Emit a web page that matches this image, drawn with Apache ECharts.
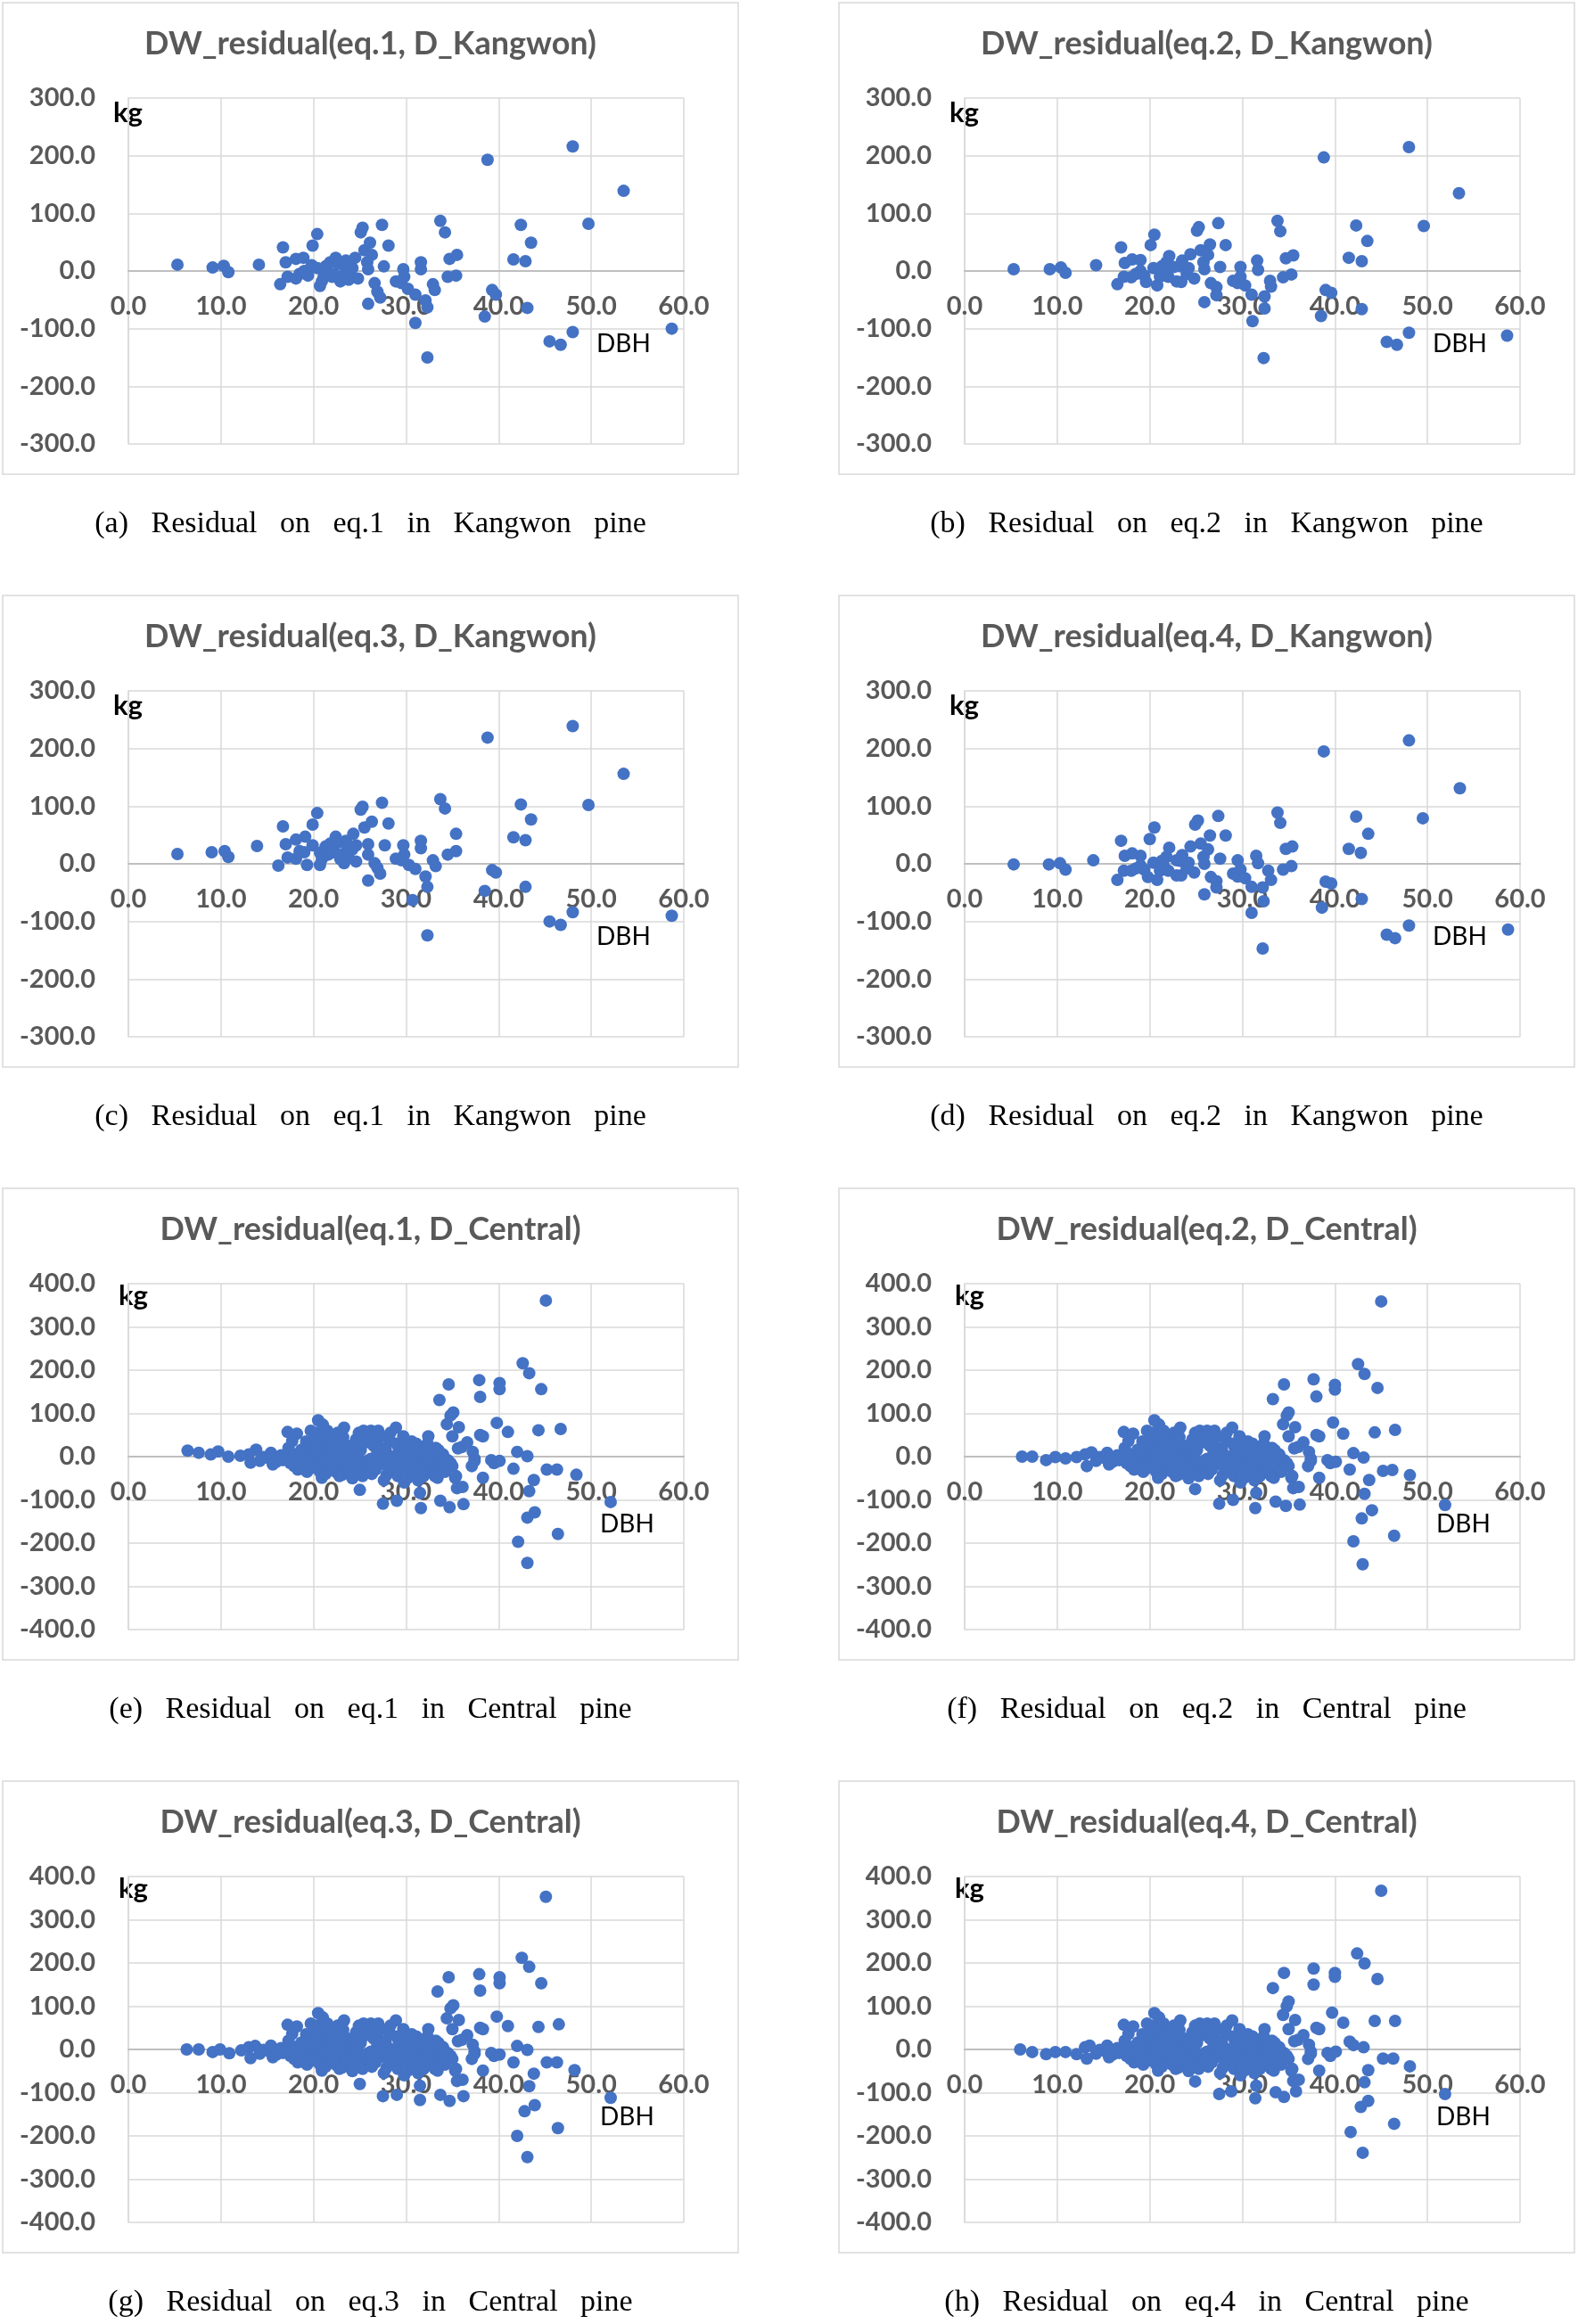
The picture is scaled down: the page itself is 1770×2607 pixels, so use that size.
<!DOCTYPE html>
<html><head><meta charset="utf-8">
<script src="https://cdn.jsdelivr.net/npm/echarts@6/dist/echarts.min.js"></script>
<style>html,body{margin:0;padding:0;background:#fff;}#c{width:1770px;height:2607px;}</style>
</head><body><div id="c"></div>
<script>
// ---------- DATA (DBH, residual kg) ----------
const kangwonEq1 = [
[5.3,11],[9.1,6],[10.3,9],[10.8,-2],[14.1,11],
[16.7,41],[16.4,-23],[17.0,15],[17.2,-10],[18.1,21],[18.1,-13],[18.5,-5],[18.9,23],[19.0,0],[19.4,-8],[19.8,10],[19.9,44],[20.4,64],[20.4,5],[20.7,-26],[20.9,-18],[21.1,-10],[21.3,8],[21.5,0],[21.8,15],[22.0,-10],[22.2,-5],[22.4,23],[22.7,13],[22.9,-18],[23.0,-10],[23.3,8],[23.5,18],[23.8,-15],[24.0,-5],[24.2,5],[24.5,23],[24.8,-13],[25.1,67],[25.3,75],[25.5,36],[25.8,15],[25.9,-57],[25.9,3],[26.1,49],[26.3,28],[26.6,-21],[26.9,-36],[27.2,-46],[27.4,80],[27.6,8],[28.1,44],[28.9,-18],[29.5,-21],[29.7,3],[29.8,-10],[30.2,-31],[31.0,-41],[31.0,-90],[31.6,15],[31.6,3],[32.1,-51],[32.3,-63],[32.3,-150],[32.9,-23],[33.1,-33],[33.7,87],[34.2,67],[34.5,-10],[34.7,21],[35.4,-8],[35.5,28],
[38.5,-79],[38.8,193],[39.3,-33],[39.7,-41],[41.6,20],[42.4,80],[42.9,17],[43.1,-64],[43.5,49],[45.5,-122],[46.7,-128],[48.0,216],[48.0,-106],[49.7,82],[53.5,139],[58.7,-100]
];
const kangwonEq2 = [
[5.3,3],[9.2,3],[10.4,6],[10.9,-3],[14.2,10],
[16.9,41],[16.5,-23],[17.3,14],[17.2,-10],[18.0,-11],[18.1,20],[18.5,-5],[19.0,19],[19.0,0],[19.4,-8],[19.6,-19],[20.1,45],[20.5,63],[20.4,5],[20.8,-25],[21.1,-10],[21.3,8],[21.5,0],[21.8,15],[22.0,-10],[22.1,26],[22.6,7],[22.9,-18],[23.3,8],[23.4,-19],[23.5,18],[24.0,-5],[24.2,5],[24.4,29],[24.8,-13],[25.1,70],[25.3,76],[25.5,36],[25.8,15],[25.9,-54],[25.9,3],[26.5,46],[26.3,28],[26.6,-21],[27.2,-28],[27.2,-42],[27.4,83],[27.6,7],[28.2,45],[29.0,-17],[29.5,-21],[29.8,7],[29.8,-10],[30.3,-25],[31.0,-41],[31.1,-87],[31.6,18],[31.7,2],[32.4,-44],[32.4,-65],[32.3,-151],[33.0,-17],[33.1,-27],[33.8,87],[34.1,69],[34.4,-11],[34.7,22],[35.3,-6],[35.5,27],
[38.5,-78],[38.8,197],[39.0,-33],[39.6,-38],[41.5,23],[42.3,79],[42.9,17],[42.9,-66],[43.5,52],[45.6,-123],[46.7,-128],[48.0,215],[48.0,-107],[49.6,78],[53.4,135],[58.6,-112]
];
const kangwonEq3 = [
[5.3,17],[9.0,20],[10.4,22],[10.8,12],[13.9,31],
[16.7,65],[16.2,-3],[17.0,34],[17.2,11],[18.1,42],[18.1,9],[18.5,22],[19.0,20],[19.1,47],[19.3,-2],[19.9,68],[19.9,32],[20.4,88],[20.7,19],[20.7,-2],[20.9,8],[21.3,30],[21.5,25],[21.6,16],[21.8,35],[22.2,20],[22.4,47],[22.7,37],[22.9,8],[23.0,16],[23.3,1],[23.5,40],[23.7,27],[23.8,10],[24.2,25],[24.3,52],[24.6,32],[24.6,4],[25.1,94],[25.3,99],[25.5,63],[25.9,34],[25.9,16],[25.9,-29],[26.3,73],[26.6,1],[26.9,-7],[27.2,-17],[27.4,106],[27.7,32],[28.1,70],[28.9,9],[29.5,6],[29.7,32],[29.8,16],[30.3,-2],[30.7,-63],[31.0,-9],[31.6,40],[31.6,27],[32.1,-22],[32.3,-40],[32.3,-124],[32.9,6],[33.2,-4],[33.7,112],[34.2,96],[34.5,16],[35.4,52],[35.4,22],
[38.5,-47],[38.8,219],[39.3,-11],[39.7,-15],[41.6,46],[42.4,103],[42.9,41],[42.9,-40],[43.5,77],[45.5,-100],[46.7,-106],[48.0,239],[48.0,-84],[49.7,102],[53.5,156],[58.7,-90]
];
const kangwonEq4 = [
[5.3,-1],[9.1,-1],[10.3,1],[10.9,-10],[13.9,6],
[16.9,40],[16.5,-28],[17.3,14],[17.2,-12],[18.0,-12],[18.1,18],[18.5,-8],[19.0,14],[19.0,-3],[19.4,-10],[19.8,-23],[20.0,43],[20.5,63],[20.4,2],[20.8,-28],[21.1,-12],[21.3,5],[21.5,-3],[21.8,12],[22.0,-12],[22.1,28],[22.9,6],[22.9,-20],[23.3,5],[23.4,-20],[23.5,15],[24.0,-8],[24.2,2],[24.4,30],[24.8,-15],[24.9,68],[25.2,75],[25.5,35],[25.8,12],[25.9,-53],[25.9,0],[26.5,49],[26.3,25],[26.6,-23],[27.2,-30],[27.2,-41],[27.4,83],[27.6,9],[28.2,49],[29.0,-17],[29.5,6],[29.5,-22],[29.8,-10],[30.3,-25],[31.0,-40],[31.0,-85],[31.5,14],[31.7,1],[32.2,-41],[32.3,-65],[32.2,-147],[32.8,-12],[33.1,-28],[33.8,89],[34.1,71],[34.4,-10],[34.7,26],[35.3,-4],[35.4,30],
[38.6,-76],[38.8,195],[39.0,-31],[39.6,-34],[41.5,26],[42.3,82],[42.8,19],[42.9,-61],[43.6,52],[45.6,-123],[46.5,-129],[48.0,214],[48.0,-107],[49.5,79],[53.5,131],[58.7,-114]
];
// dense core of the Central pine residuals (visually the same in all four Central panels)
const centralCore = [
[13.0,5],[14.2,-10],[14.6,-1],[15.1,-3],[15.4,9],[15.6,-18],[16.0,-12],[16.5,3],[16.7,-8],[17.0,-5],[17.2,57],[17.3,20],[17.5,-15],[17.7,36],[17.8,0],[17.9,-22],[18.0,5],[18.2,53],[18.3,-30],[18.5,-20],[18.7,16],[18.8,-10],[19.0,-29],[19.0,10],[19.2,35],[19.3,-35],[19.5,25],[19.6,-8],[19.7,60],[19.8,-15],[19.9,26],[20.0,-25],[20.1,15],[20.2,40],[20.3,55],[20.4,-1],[20.5,84],[20.5,10],[20.6,-20],[20.7,-35],[20.8,-15],[20.9,-49],[20.9,25],[21.0,74],[21.0,35],[21.1,50],[21.2,-10],[21.3,-40],[21.4,19],[21.5,60],[21.5,-30],[21.6,5],[21.7,45],[21.8,-20],[21.9,40],[22.0,0],[22.1,30],[22.2,-15],[22.3,20],[22.4,-35],[22.5,-25],[22.6,10],[22.6,55],[22.8,5],[22.8,-45],[22.9,-5],[23.0,30],[23.1,-42],[23.2,45],[23.3,67],[23.3,-10],[23.5,-30],[23.6,-22],[23.6,10],[23.8,25],[24.0,-35],[24.1,-1],[24.2,-50],[24.3,20],[24.4,5],[24.5,-15],[24.6,40],[24.7,-25],[24.8,0],[24.9,55],[25.0,45],[25.1,15],[25.2,-30],[25.3,-45],[25.4,60],[25.5,32],[25.7,-20],[25.8,-10],[26.0,-22],[26.1,40],[26.2,60],[26.2,-5],[26.3,-40],[26.5,53],[26.5,25],[26.7,-30],[26.8,33],[26.9,10],[27.0,60],[27.0,-20],[27.2,45],[27.3,-1],[27.3,15],[27.5,-10],[27.6,-55],[27.8,20],[27.9,-42],[28.0,5],[28.1,-25],[28.2,40],[28.3,55],[28.4,-29],[28.5,-15],[28.7,0],[28.8,-35],[28.9,67],[29.0,30],[29.1,-45],[29.2,19],[29.3,10],[29.4,-12],[29.5,0],[29.6,-25],[29.7,47],[29.8,-60],[29.9,35],[30.0,20],[30.1,-10],[30.2,-49],[30.3,-30],[30.4,10],[30.5,-22],[30.6,35],[30.7,-40],[30.8,5],[31.0,-15],[31.1,30],[31.2,19],[31.3,-55],[31.4,-30],[31.5,-84],[31.7,10],[31.8,-8],[31.9,-45],[32.0,-20],[32.2,5],[32.3,30],[32.4,47],[32.5,-15],[32.6,-36],[32.7,-5],[32.9,12],[33.0,-30],[33.1,-45],[33.2,20],[33.4,-49],[33.5,15],[33.6,-10],[33.8,-20],[34.0,5],[34.2,-35],
[34.5,-8],[34.8,-15],[35.0,47],[35.0,-22],[35.3,-49],[35.4,-45],[35.5,-73],[35.6,19],[35.7,68],[36.0,22],[36.1,-70],[36.6,33],[37.1,-22],[37.2,11],[37.4,-5],[37.4,-10],[38.0,50],[38.3,47],[38.3,-49],[39.2,-8],[39.5,-15]
];
const centralEq1Extra = [
[6.4,14],[7.6,9],[8.9,5],[9.7,12],[10.8,0],[12.1,2],[13.2,-14],[13.8,16],
[45.1,361],[42.6,216],[43.3,193],[34.6,167],[37.9,177],[40.1,170],[40.1,156],[38.0,138],[33.6,131],[44.6,156],[35.1,102],[34.4,75],[34.8,95],[39.8,78],[41.0,57],[44.3,61],[46.7,64],[42.1,-197],[43.1,-246],[46.4,-179],[43.1,-141],[43.9,-129],[52.1,-105],[48.4,-42],[45.2,-30],[46.3,-30],[43.3,-80],[43.8,-54],[27.5,-109],[29.0,-102],[31.6,-119],[33.7,-102],[34.7,-117],[36.2,-110],[25.0,-77],[41.6,-28],[40.1,-10],[42.0,11],[43.1,1]
];
const centralEq2Extra = [
[6.2,0],[7.3,0],[8.8,-8],[9.8,-1],[10.9,-4],[12.1,-1],[13.2,-22],[13.7,10],
[45.0,359],[42.5,214],[43.2,191],[34.5,167],[37.7,179],[40.0,166],[40.0,155],[38.0,139],[33.3,133],[44.6,159],[35.0,102],[34.4,75],[34.8,95],[39.8,79],[40.9,53],[44.3,56],[46.5,62],[42.0,-196],[43.0,-249],[46.4,-183],[42.9,-143],[44.0,-124],[51.9,-112],[48.1,-43],[45.2,-33],[46.2,-31],[43.2,-86],[43.7,-54],[27.5,-109],[29.0,-100],[31.4,-119],[33.6,-104],[34.7,-114],[36.2,-111],[24.9,-75],[41.6,-30],[40.1,-12],[42.0,8],[43.1,-2]
];
const centralEq3Extra = [
[6.3,0],[7.6,0],[9.1,-6],[9.9,0],[10.9,-9],[12.2,-2],[13.2,-20],[13.7,8],
[45.1,353],[42.5,212],[43.3,191],[34.6,167],[37.9,174],[40.1,167],[40.1,153],[38.0,136],[33.4,134],[44.6,153],[35.1,102],[34.4,72],[34.8,95],[39.8,76],[41.0,54],[44.3,52],[46.5,58],[42.0,-200],[43.1,-249],[46.4,-182],[42.8,-143],[43.9,-129],[52.1,-112],[48.2,-48],[45.2,-30],[46.3,-30],[43.3,-85],[43.8,-56],[27.5,-108],[29.0,-105],[31.5,-117],[33.7,-105],[34.7,-119],[36.2,-108],[25.0,-80],[41.6,-30],[40.1,-12],[42.0,8],[43.1,-1]
];
const centralEq4Extra = [
[6.0,0],[7.3,-6],[8.8,-11],[9.8,-6],[10.9,-6],[12.1,-11],[13.2,-21],[13.5,9],
[45.0,367],[42.4,222],[43.2,199],[34.5,177],[37.7,187],[40.0,177],[40.0,168],[37.7,150],[33.3,142],[44.6,163],[35.0,111],[34.4,80],[34.8,100],[39.7,85],[40.9,62],[44.3,66],[46.5,66],[41.7,-191],[43.0,-239],[46.4,-172],[42.8,-133],[43.6,-119],[51.9,-103],[48.1,-39],[45.2,-21],[46.3,-21],[43.2,-76],[43.6,-48],[27.5,-103],[28.8,-97],[31.4,-113],[33.6,-99],[34.5,-110],[35.8,-97],[24.9,-74],[41.6,18],[40.1,-5],[42.0,10],[43.1,5]
];

const panelTitles = [
"DW_residual(eq.1, D_Kangwon)","DW_residual(eq.2, D_Kangwon)",
"DW_residual(eq.3, D_Kangwon)","DW_residual(eq.4, D_Kangwon)",
"DW_residual(eq.1, D_Central)","DW_residual(eq.2, D_Central)",
"DW_residual(eq.3, D_Central)","DW_residual(eq.4, D_Central)"];
const captions = [
"(a)   Residual   on   eq.1   in   Kangwon   pine","(b)   Residual   on   eq.2   in   Kangwon   pine",
"(c)   Residual   on   eq.1   in   Kangwon   pine","(d)   Residual   on   eq.2   in   Kangwon   pine",
"(e)   Residual   on   eq.1   in   Central   pine","(f)   Residual   on   eq.2   in   Central   pine",
"(g)   Residual   on   eq.3   in   Central   pine","(h)   Residual   on   eq.4   in   Central   pine"];
const panelData = [kangwonEq1,kangwonEq2,kangwonEq3,kangwonEq4,
  centralCore.concat(centralEq1Extra),centralCore.concat(centralEq2Extra),
  centralCore.concat(centralEq3Extra),centralCore.concat(centralEq4Extra)];
const yLimits = [300,300,300,300,400,400,400,400];
const xMax = 60, xStep = 10, yStep = 100;
const yAxisName = "kg", xAxisName = "DBH";

// ---------- LAYOUT ----------
const COLS=[3,941], ROWS=[3,668,1333,1998], PW=825, PH=529;
const GL=141, GT=107, GW=623, GH=388;
const FONT='Lato, "Open Sans", sans-serif';

const grids=[], xAxes=[], yAxes=[], series=[], graphics=[];
for(let i=0;i<8;i++){
  const cx=COLS[i%2], ry=ROWS[Math.floor(i/2)];
  const gl=cx+GL, gt=ry+GT;
  const central = i>=4;
  grids.push({left:gl, top:gt, width:GW, height:GH});
  // x axis drawn through y = 0 (middle of the symmetric y range)
  xAxes.push({gridIndex:i,type:'value',min:0,max:xMax,interval:xStep,position:'bottom',offset:-GH/2,
    axisLine:{show:true,onZero:false,lineStyle:{color:'#bfbfbf',width:2}},
    axisTick:{show:false},
    axisLabel:{margin:25,fontSize:29,fontWeight:'bold',color:'#595959',fontFamily:FONT,formatter:v=>v.toFixed(1)},
    splitLine:{show:true,lineStyle:{color:'#d9d9d9',width:1.5}}});
  yAxes.push({gridIndex:i,type:'value',min:-yLimits[i],max:yLimits[i],interval:yStep,
    axisLine:{show:true,onZero:false,lineStyle:{color:'#d9d9d9',width:1.5}},
    axisTick:{show:false},
    axisLabel:{margin:37,fontSize:29,fontWeight:'bold',color:'#595959',fontFamily:FONT,formatter:v=>v.toFixed(1)},
    splitLine:{show:true,lineStyle:{color:'#d9d9d9',width:1.5}}});
  series.push({type:'scatter',xAxisIndex:i,yAxisIndex:i,data:panelData[i],symbol:'circle',symbolSize:14,
    itemStyle:{color:'#4472C4',opacity:1},animation:false,silent:true,z:5});
  graphics.push({type:'rect',shape:{x:cx,y:ry,width:PW,height:PH},style:{fill:'none',stroke:'#d9d9d9',lineWidth:1.5},z:-1});
  graphics.push({type:'text',x:cx+PW/2,y:ry+46,style:{text:panelTitles[i],fontSize:36,fontWeight:'bold',fontFamily:FONT,fill:'#595959',align:'center',verticalAlign:'middle'}});
  graphics.push({type:'text',x:gl+(central?-11:-17),y:gt+(central?14:17),style:{text:yAxisName,fontSize:31,fontWeight:'bold',fontFamily:FONT,fill:'#000',align:'left',verticalAlign:'middle'}});
  graphics.push({type:'text',x:gl+(central?529:525),y:gt+(central?270:276),style:{text:xAxisName,fontSize:28,fontFamily:FONT,fill:'#000',align:'left',verticalAlign:'middle'}});
  graphics.push({type:'text',x:cx+PW/2,y:ry+585,style:{text:captions[i],fontSize:34,fontFamily:'"Liberation Serif","DejaVu Serif",serif',fill:'#000',align:'center',verticalAlign:'middle'}});
}
const chart=echarts.init(document.getElementById('c'),null,{renderer:'canvas',width:1770,height:2607});
chart.setOption({backgroundColor:'#fff',animation:false,grid:grids,xAxis:xAxes,yAxis:yAxes,series:series,graphic:graphics});
</script></body></html>
